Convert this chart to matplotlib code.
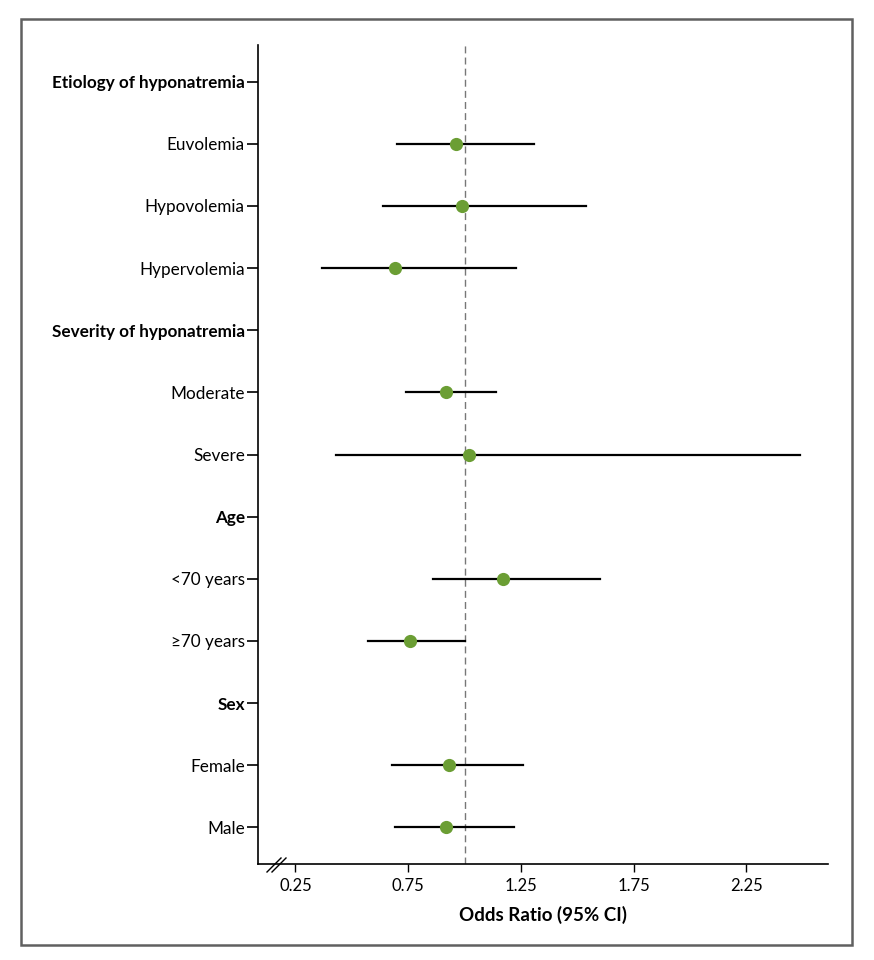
import numpy as np
import matplotlib
matplotlib.use("Agg")
import matplotlib.pyplot as plt
from matplotlib.patches import Rectangle
from matplotlib.lines import Line2D

# datos del forest plot
etiquetas = ["Etiology of hyponatremia", "Euvolemia", "Hypovolemia", "Hypervolemia",
             "Severity of hyponatremia", "Moderate", "Severe",
             "Age", "<70 years", "\u226570 years",
             "Sex", "Female", "Male"]
es_titulo = [True, False, False, False, True, False, False, True, False, False, True, False, False]
odds = [np.nan, 0.96, 0.99, 0.69, np.nan, 0.92, 1.02, np.nan, 1.17, 0.76, np.nan, 0.93, 0.92]
ic_inf = [np.nan, 0.70, 0.64, 0.37, np.nan, 0.74, 0.43, np.nan, 0.86, 0.57, np.nan, 0.68, 0.69]
ic_sup = [np.nan, 1.31, 1.54, 1.23, np.nan, 1.14, 2.49, np.nan, 1.60, 1.00, np.nan, 1.26, 1.22]
xticks = [0.25, 0.75, 1.25, 1.75, 2.25]

plt.rcParams['font.family'] = ['Lato', 'DejaVu Sans']

fig = plt.figure(figsize=(8.74, 9.60), dpi=100)
ax = fig.add_axes([258/874, 1 - 864/960, (828-258)/874, (864-45)/960])

y = np.arange(len(etiquetas))
verde = '#6b9e34'

ax.axvline(1.0, color='#777777', linestyle=(0, (5, 3)), linewidth=1.0, zorder=1)

for i in range(len(etiquetas)):
    if es_titulo[i]:
        continue
    ax.plot([ic_inf[i], ic_sup[i]], [y[i], y[i]], color='black', linewidth=1.6, zorder=2)
    ax.plot(odds[i], y[i], 'o', color=verde, markersize=9.5, markeredgewidth=0, zorder=3)

ax.set_xlim(0.084, 2.612)
ax.set_ylim(len(etiquetas) - 1 + 0.59, -0.59)

ax.set_yticks(y)
ax.set_yticklabels(etiquetas, fontsize=12.3)
for lab, tit in zip(ax.get_yticklabels(), es_titulo):
    if tit:
        lab.set_fontweight('bold')
ax.set_xticks(xticks)
ax.set_xticklabels([f"{v:.2f}" for v in xticks], fontsize=12)

ax.tick_params(axis='y', length=8, width=1.2, pad=1.5)
ax.tick_params(axis='x', length=6, width=1.0, pad=4)

ax.spines['top'].set_visible(False)
ax.spines['right'].set_visible(False)
ax.spines['left'].set_linewidth(1.2)
ax.spines['bottom'].set_linewidth(1.2)

ax.set_xlabel("Odds Ratio (95% CI)", fontsize=13.5, fontweight='bold', labelpad=9)

# marcas de corte del eje
for dx in (0, 5):
    x0 = (267 + dx) / 874
    x1 = (281 + dx) / 874
    fig.add_artist(Line2D([x0, x1], [1 - 872/960, 1 - 858/960], color='black', linewidth=1.0))

# marco exterior
fig.add_artist(Rectangle((21/874, 1 - 945/960), (852-21)/874, (945-19)/960,
                         fill=False, edgecolor='#606060', linewidth=1.8,
                         transform=fig.transFigure))

fig.savefig("out.png", dpi=100)
